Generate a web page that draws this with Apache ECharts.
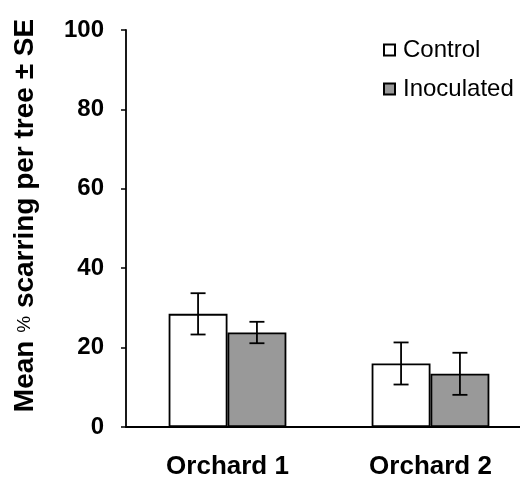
<!DOCTYPE html>
<html><head><meta charset="utf-8">
<script src="https://cdn.jsdelivr.net/npm/echarts@6/dist/echarts.min.js"></script>
<style>html,body{margin:0;padding:0;background:#fff}#c{width:520px;height:478px}</style>
</head><body><div id="c"></div>
<script>
const categories = ['Orchard 1', 'Orchard 2'];
const controlMean = [28.5, 16.0];
const controlSE = [5.2, 5.3];
const inocMean = [23.8, 13.4];
const inocSE = [2.7, 5.3];
const yTicks = [0, 20, 40, 60, 80, 100];

const BW = 0.29;
const FONT = 'Liberation Sans, Arial, sans-serif';
function errSeries(name, means, ses, side) {
  return {
    type: 'custom', name: name + ' err', silent: true, z: 5,
    data: means.map((m, i) => [i, m - ses[i], m + ses[i]]),
    renderItem: function (params, api) {
      const band = api.size([1, 0])[0];
      const off = side * band * BW / 2;
      const lo = api.coord([api.value(0), api.value(1)]);
      const hi = api.coord([api.value(0), api.value(2)]);
      const x = lo[0] + off, cap = 7.5;
      const st = { stroke: '#000', lineWidth: 1.8 };
      return { type: 'group', children: [
        { type: 'line', shape: { x1: x, y1: lo[1], x2: x, y2: hi[1] }, style: st },
        { type: 'line', shape: { x1: x - cap, y1: lo[1], x2: x + cap, y2: lo[1] }, style: st },
        { type: 'line', shape: { x1: x - cap, y1: hi[1], x2: x + cap, y2: hi[1] }, style: st }
      ]};
    }
  };
}

const chart = echarts.init(document.getElementById('c'));
chart.setOption({
  animation: false,
  textStyle: { fontFamily: FONT },
  grid: { left: 126, width: 406, top: 30, bottom: 51, outerBoundsMode: 'none', containLabel: false },
  legend: {
    orient: 'vertical', left: 378, top: 33, itemGap: 15,
    itemWidth: 11, itemHeight: 11, icon: 'rect',
    data: ['Control', 'Inoculated'],
    textStyle: { fontSize: 24, color: '#000', fontFamily: FONT, padding: [0, 0, 0, 3] }
  },
  xAxis: {
    type: 'category', data: categories,
    axisLine: { lineStyle: { color: '#000', width: 1.8 } },
    axisTick: { show: false },
    axisLabel: { color: '#000', fontSize: 26, fontWeight: 'bold', margin: 27 }
  },
  yAxis: {
    type: 'value', min: 0, max: 100, interval: 20,
    name: 'Mean {p|%} scarring per tree ± SE', nameLocation: 'middle', nameGap: 87,
    nameTextStyle: { color: '#000', fontSize: 28, fontWeight: 'bold', padding: [0, 0, 0, 26],
      rich: { p: { fontSize: 19, fontWeight: 'normal', color: '#000' } } },
    splitLine: { show: false },
    axisLine: { show: true, lineStyle: { color: '#000', width: 1.8 } },
    axisTick: { show: true, length: 5, lineStyle: { color: '#000', width: 1.5 } },
    axisLabel: { color: '#000', fontSize: 24, fontWeight: 'bold', margin: 22,
      formatter: v => yTicks.includes(v) ? String(v) : '' }
  },
  series: [
    { name: 'Control', type: 'bar', data: controlMean, barWidth: (BW * 100) + '%', barGap: '0%',
      itemStyle: { color: '#fff', borderColor: '#000', borderWidth: 1.8 } },
    { name: 'Inoculated', type: 'bar', data: inocMean, barWidth: (BW * 100) + '%', barGap: '0%',
      itemStyle: { color: '#999', borderColor: '#000', borderWidth: 1.8 } },
    errSeries('Control', controlMean, controlSE, -1),
    errSeries('Inoculated', inocMean, inocSE, 1)
  ]
});
</script></body></html>
